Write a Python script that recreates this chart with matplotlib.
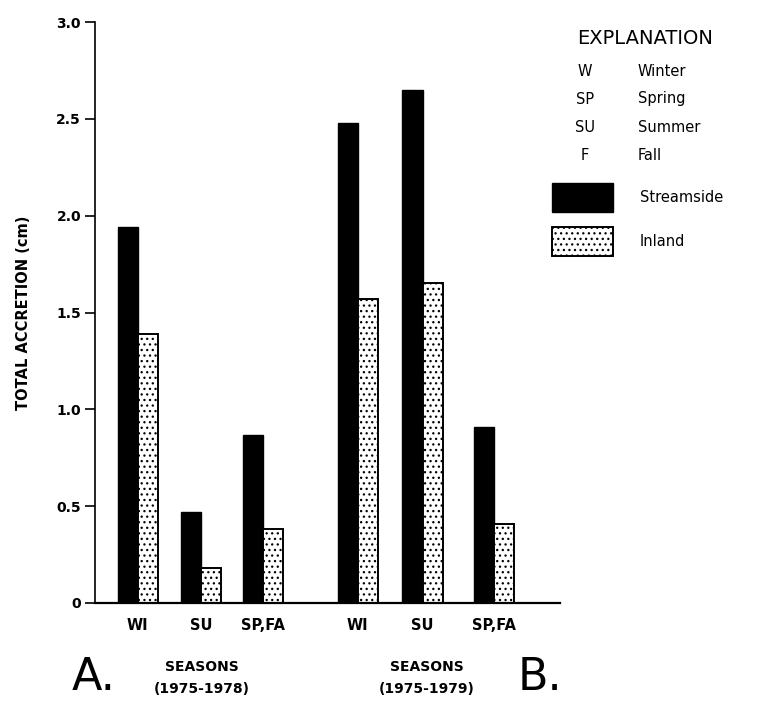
import matplotlib
matplotlib.use("Agg")
import matplotlib.pyplot as plt
from matplotlib.patches import Rectangle
import numpy as np

# ---- data ----
seasons_a = ["WI", "SU", "SP,FA"]
seasons_b = ["WI", "SU", "SP,FA"]
streamside_a = [1.94, 0.47, 0.87]
inland_a = [1.39, 0.18, 0.38]
streamside_b = [2.48, 2.65, 0.91]
inland_b = [1.57, 1.65, 0.41]
yticks = [0, 0.5, 1.0, 1.5, 2.0, 2.5, 3.0]
ytick_labels = ["0", "0.5", "1.0", "1.5", "2.0", "2.5", "3.0"]
abbrev_codes = ["W", "SP", "SU", "F"]
abbrev_names = ["Winter", "Spring", "Summer", "Fall"]
series_names = ["Streamside", "Inland"]

plt.rcParams['font.family'] = ['DejaVu Sans']
plt.rcParams['hatch.linewidth'] = 0.9
plt.rcParams['hatch.color'] = '#222222'

W, H = 761, 703
fig = plt.figure(figsize=(W / 100, H / 100), dpi=100)
ax = fig.add_axes([95 / W, (H - 603) / H, 465 / W, 581 / H])

pos_a = np.array([0.68, 1.68, 2.67])
pos_b = np.array([4.17, 5.2, 6.33])
bw = 0.32
HATCH = "..."

for pos, s, i in [(pos_a, streamside_a, inland_a), (pos_b, streamside_b, inland_b)]:
    ax.bar(pos - bw / 2, s, width=bw, color="black", edgecolor="black", linewidth=1.0)
    ax.bar(pos + bw / 2, i, width=bw, color="white", edgecolor="black",
           linewidth=1.4, hatch=HATCH)

ax.set_xlim(0, 7.38)
ax.set_ylim(0, 3.0)
ax.set_yticks(yticks)
ax.set_yticklabels(ytick_labels, fontsize=10, fontweight="bold")
ax.set_xticks(np.concatenate([pos_a, pos_b]))
ax.set_xticklabels(seasons_a + seasons_b, fontsize=10.5, fontweight="bold")
ax.tick_params(axis="x", length=0, pad=11)
ax.tick_params(axis="y", length=7, width=1.2, direction="out", pad=3)
for sp in ["top", "right"]:
    ax.spines[sp].set_visible(False)
ax.spines["left"].set_linewidth(1.2)
ax.spines["bottom"].set_linewidth(1.6)

ax.set_ylabel("TOTAL ACCRETION (cm)", fontsize=10.5, fontweight="bold", labelpad=18)

# bottom captions
def fx(px):
    return px / W
def fy(py):
    return (H - py) / H

fig.text(fx(202), fy(667), "SEASONS", ha="center", va="center", fontsize=10, fontweight="bold")
fig.text(fx(202), fy(689), "(1975-1978)", ha="center", va="center", fontsize=10, fontweight="bold")
fig.text(fx(427), fy(667), "SEASONS", ha="center", va="center", fontsize=10, fontweight="bold")
fig.text(fx(427), fy(689), "(1975-1979)", ha="center", va="center", fontsize=10, fontweight="bold")
fig.text(fx(72), fy(677), "A.", ha="left", va="center", fontsize=32)
fig.text(fx(518), fy(677), "B.", ha="left", va="center", fontsize=32)

# explanation / legend
fig.text(fx(645), fy(38), "EXPLANATION", ha="center", va="center", fontsize=14)
ys = [72, 99, 127, 155]
for code, name, y in zip(abbrev_codes, abbrev_names, ys):
    fig.text(fx(585), fy(y), code, ha="center", va="center", fontsize=10.5)
    fig.text(fx(638), fy(y), name, ha="left", va="center", fontsize=10.5)

box_specs = [(183, dict(facecolor="black", edgecolor="black")),
             (227, dict(facecolor="white", edgecolor="black", hatch=HATCH, linewidth=1.4))]
for (top, kw), name in zip(box_specs, series_names):
    r = Rectangle((fx(552), fy(top + 29)), fx(613) - fx(552), fy(top) - fy(top + 29),
                  transform=fig.transFigure, **kw)
    fig.patches.append(r)
    fig.text(fx(640), fy(top + 14), name, ha="left", va="center", fontsize=10.5)

fig.savefig("out.png", dpi=100)
